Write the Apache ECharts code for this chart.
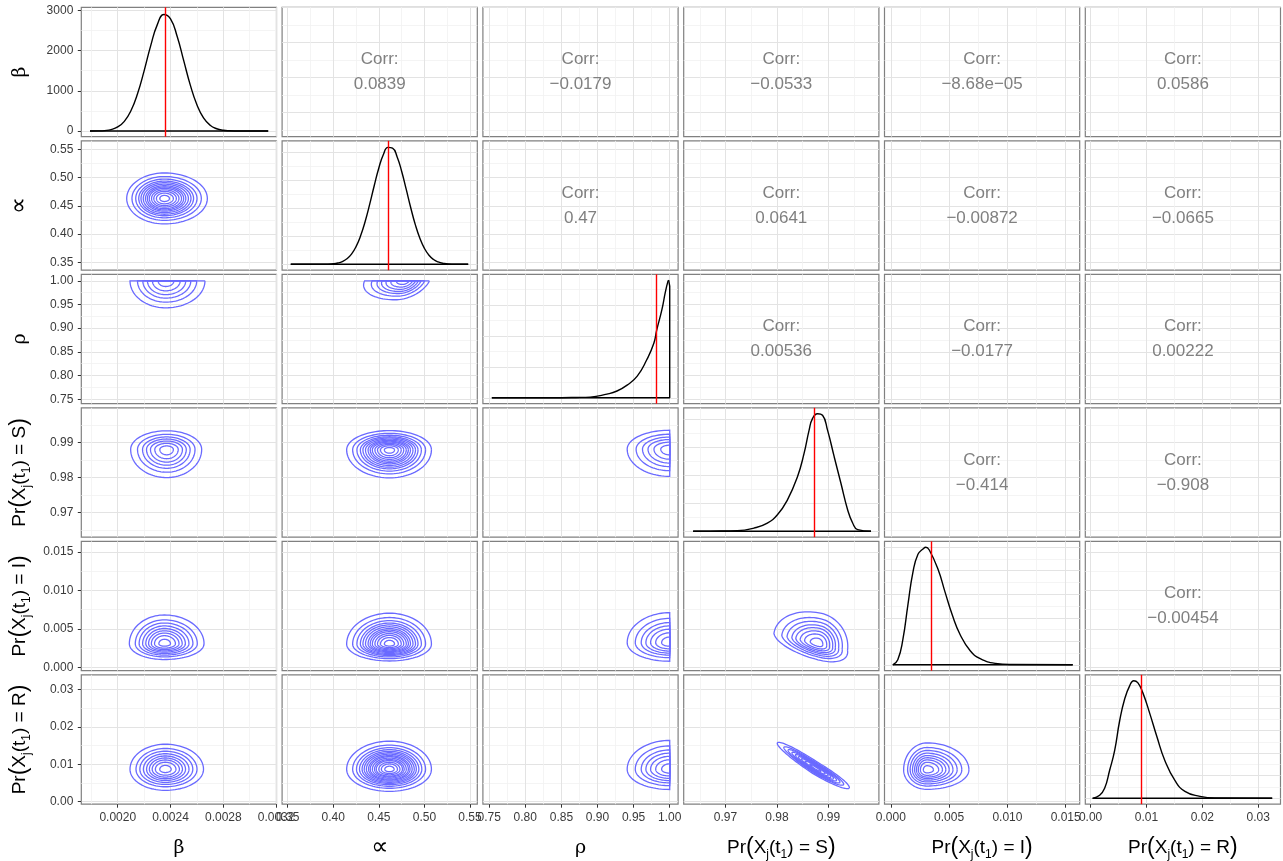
<!DOCTYPE html>
<html><head><meta charset="utf-8">
<script src="https://cdn.jsdelivr.net/npm/echarts@6/dist/echarts.min.js"></script>
<style>html,body{margin:0;padding:0;background:#fff}#c{width:1283px;height:861px}</style>
</head><body><div id="c"></div>
<script>
// ---------------- data ----------------
const xRanges = [[0.001724,0.003203],[0.3439,0.5580],[0.7413,1.0116],[0.96187,0.9998],[-0.00054,0.0162],[-0.00095,0.0340]];
const yRanges = [[0.001724,0.003203],[0.3363,0.5649],[0.7405,1.0138],[0.96291,0.9999],[-0.00043,0.01636],[-0.00067,0.0339]];
const majorTicks = [[0.0020,0.0024,0.0028,0.0032],[0.35,0.40,0.45,0.50,0.55],[0.75,0.80,0.85,0.90,0.95,1.00],[0.97,0.98,0.99],[0,0.005,0.010,0.015],[0,0.01,0.02,0.03]];
const majorTickLabels = [['0.0020','0.0024','0.0028','0.0032'],['0.35','0.40','0.45','0.50','0.55'],['0.75','0.80','0.85','0.90','0.95','1.00'],['0.97','0.98','0.99'],['0.000','0.005','0.010','0.015'],['0.00','0.01','0.02','0.03']];
const minorTicks = [[0.0018,0.0022,0.0026,0.0030],[0.375,0.425,0.475,0.525],[0.775,0.825,0.875,0.925,0.975],[0.965,0.975,0.985,0.995],[0.0025,0.0075,0.0125],[0.005,0.015,0.025]];

const densRanges = [[-140,3072],[-1.05,22.05],[-1.9,39.9],[-5.25,110.25],[-12.5,262.5],[-6.5,136.5]];
const densMajor = [[0,1000,2000,3000],[0,5,10,15,20],[0,10,20,30],[0,25,50,75,100],[0,50,100,150,200,250],[0,25,50,75,100,125]];
const densMajorLabels = ['0','1000','2000','3000'];
const densMinor = [[500,1500,2500],[2.5,7.5,12.5,17.5],[5,15,25,35],[12.5,37.5,62.5,87.5],[25,75,125,175,225],[12.5,37.5,62.5,87.5,112.5]];

const betaX = [0.00179,0.00185,0.0019,0.00195,0.0020,0.00205,0.0021,0.00215,0.0022,0.00225,0.0023,0.00235,0.0024,0.00245,0.0025,0.00255,0.0026,0.00265,0.0027,0.00275,0.0028,0.00285,0.0029,0.00295,0.0030,0.00314];
const betaY = [0,3.5,12,37,102,241,504,926,1495,2121,2642,2892,2782,2352,1747,1140,653,329,146,57,19,6,1.6,0.4,0,0];
const alphaX = [0.3534,0.39,0.40,0.405,0.41,0.415,0.42,0.425,0.43,0.435,0.44,0.445,0.45,0.455,0.46,0.465,0.47,0.475,0.48,0.485,0.49,0.495,0.50,0.505,0.51,0.515,0.52,0.53,0.548];
const alphaY = [0,0.01,0.1,0.23,0.50,0.98,1.82,3.15,5.09,7.65,10.74,14.07,17.2,19.62,20.88,20.74,19.22,16.62,13.41,10.1,7.09,4.65,2.84,1.62,0.86,0.43,0.2,0.03,0];
const rhoX = [0.7537,0.85,0.87,0.89,0.913,0.927,0.941,0.955,0.968,0.978,0.982,0.989,0.994,0.9975,0.9985];
const rhoY = [0,0.04,0.11,0.23,1.2,2.2,4.1,7.0,12.2,17.6,21.9,28.3,34.2,37.6,38];
const sX = [0.9637,0.967,0.97228,0.97552,0.97812,0.98008,0.98203,0.98398,0.98526,0.98624,0.98689,0.98787,0.98885,0.98982,0.99111,0.99242,0.99372,0.9947,0.99567,0.99827];
const sY = [0,0.2,0.6,2.9,7.4,14.8,28.1,48.8,69.5,90.3,100.6,105,103.6,90.3,66.6,42.9,19.3,7.4,1.5,0];
const iX = [0.00017,0.0006,0.00103,0.00147,0.0019,0.00233,0.00276,0.0030,0.0033,0.00405,0.00466,0.00526,0.00595,0.00681,0.00767,0.00897,0.0103,0.0156];
const iY = [0,11,53,128,197,235,246,250,244,203,154,107,64,30,13,3,0.6,0];
const rX = [0.00036,0.00162,0.00251,0.00341,0.00431,0.00521,0.00611,0.00701,0.00772,0.00844,0.00934,0.0106,0.01186,0.01329,0.01509,0.01689,0.01958,0.02227,0.03251];
const rY = [0,3.3,11,31,53,86,110,124.5,130,127.8,116.8,93.6,68.3,41.9,19.8,7.7,2.2,0.3,0];
const densX = [betaX, alphaX, rhoX, sX, iX, rX];
const densY = [betaY, alphaY, rhoY, sY, iY, rY];

const trueValues = [0.00236, 0.4606, 0.9813, 0.98715, 0.00345, 0.00898];

const corrValues = [
  [0,1,'0.0839'],[0,2,'\u22120.0179'],[0,3,'\u22120.0533'],[0,4,'\u22128.68e\u221205'],[0,5,'0.0586'],
  [1,2,'0.47'],[1,3,'0.0641'],[1,4,'\u22120.00872'],[1,5,'\u22120.0665'],
  [2,3,'0.00536'],[2,4,'\u22120.0177'],[2,5,'0.00222'],
  [3,4,'\u22120.414'],[3,5,'\u22120.908'],
  [4,5,'\u22120.00454']
];

// contour rings: [row, col, cx, cy, Rx, Ry, Lx, Ly, Ux, Uy, Dx, Dy, rings]
const contours = [
  [1,0, 0.002353,0.4630, 0.000326,0, -0.000285,0, 0,0.0451, 0,-0.0449, 13],
  [2,0, 0.002363,1.0, 0.000298,0, -0.00027,0, 0,0, 0,-0.057, 6],
  [2,1, 0.478,1.0, 0.0275,0, -0.0436,0, 0,0, -0.01,-0.04, 7],
  [3,0, 0.002371,0.98799, 0.000265,0, -0.000273,0, 0,0.00534, 0,-0.00803, 7],
  [3,1, 0.4617,0.98788, 0.046,0, -0.047,0, 0,0.0055, 0,-0.0080, 13],
  [3,2, 1.0,0.98808, 0,0, -0.0589,0, 0,0.0054, 0,-0.0078, 6],
  [4,0, 0.002353,0.00307, 0.000301,0, -0.000265,0, 0,0.00373, 0,-0.00205, 9],
  [4,1, 0.4617,0.00303, 0.046,0, -0.047,0, 0,0.0040, 0,-0.0022, 13],
  [4,2, 1.0,0.0032, 0,0, -0.0589,0, 0,0.0039, 0,-0.0024, 7],
  [4,3, 0.9879,0.0031, 0.0058,-0.0009, -0.0085,0.0013, 0.0008,0.0039, 0.0006,-0.0022, 8],
  [5,0, 0.00236,0.00866, 0.00029,0, -0.000267,0, 0,0.0067, 0,-0.00563, 9],
  [5,1, 0.4617,0.00866, 0.046,0, -0.047,0, 0,0.0075, 0,-0.0059, 15],
  [5,2, 1.0,0.00866, 0,0, -0.0589,0, 0,0.0077, 0,-0.0054, 7],
  [5,3, 0.98754,0.00893, 0.00649,-0.00528, -0.00746,0.00678, 0.000624,0.001367, -0.000624,-0.001367, 9],
  [5,4, 0.0031,0.0085, 0.0036,0, -0.0020,0, 0,0.0072, 0,-0.0052, 9]
];
const ringScales = {
  6: [1,0.79,0.64,0.51,0.37,0.21],
  7: [1,0.81,0.67,0.56,0.45,0.33,0.19],
  8: [1,0.82,0.70,0.59,0.50,0.40,0.30,0.17],
  9: [1,0.83,0.72,0.62,0.53,0.45,0.37,0.28,0.155],
  13: [1,0.86,0.76,0.68,0.62,0.56,0.50,0.45,0.40,0.34,0.28,0.21,0.12],
  15: [1,0.86,0.77,0.70,0.64,0.59,0.54,0.49,0.45,0.40,0.35,0.31,0.25,0.19,0.11]
};

const axisTitles = ['β','∝','ρ','S','I','R'];

// ---------------- layout ----------------
const colLeft = [81.3,282.1,482.9,683.7,884.5,1085.3], PW = 195.2;
const rowTop = [7.3,140.8,274.3,407.8,541.3,674.8], PH = 129.4;
const SANS = 'Liberation Sans, Arial, Helvetica, sans-serif';
const SERIF = 'DejaVu Serif, Liberation Serif, serif';
const TICK_COLOR = '#333333';
const LABEL_COLOR = '#3a3a3a';
const CONTOUR = '#6a6aff';

function labelFor(ticks, labels) {
  return function (v) {
    let bi = 0, bd = Infinity;
    ticks.forEach((t, i) => { const d = Math.abs(t - v); if (d < bd) { bd = d; bi = i; } });
    return labels[bi];
  };
}

const grids = [], xAxes = [], yAxes = [], series = [], graphics = [];

for (let r = 0; r < 6; r++) {
  for (let c = 0; c < 6; c++) {
    const g = grids.length;
    grids.push({left: colLeft[c], top: rowTop[r], width: PW, height: PH, show: true,
      borderColor: '#808080', borderWidth: 1.2, backgroundColor: '#ffffff'});
    const showX = r === 5, showY = c === 0;
    xAxes.push({type: 'value', gridIndex: g, min: xRanges[c][0], max: xRanges[c][1], position: 'bottom',
      axisLine: {show: false, onZero: false},
      axisTick: {show: showX, customValues: majorTicks[c], length: 3.5, lineStyle: {color: TICK_COLOR, width: 1}},
      axisLabel: {show: showX, customValues: majorTicks[c], formatter: labelFor(majorTicks[c], majorTickLabels[c]),
        fontSize: 12, color: LABEL_COLOR, margin: 7, fontFamily: SANS, hideOverlap: false},
      splitLine: {show: true, lineStyle: {color: '#e3e3e3', width: 1}}});
    xAxes.push({type: 'value', gridIndex: g, min: xRanges[c][0], max: xRanges[c][1], position: 'top',
      axisLine: {show: false, onZero: false},
      axisTick: {show: false, customValues: minorTicks[c]},
      axisLabel: {show: false},
      splitLine: {show: true, lineStyle: {color: '#f1f1f1', width: 0.8}}});
    const diag = r === c;
    const yr = diag ? densRanges[r] : yRanges[r];
    const ym = diag ? densMajor[r] : majorTicks[r];
    const yn = diag ? densMinor[r] : minorTicks[r];
    const yl = (diag && r === 0) ? densMajorLabels : majorTickLabels[r];
    yAxes.push({type: 'value', gridIndex: g, min: yr[0], max: yr[1], position: 'left',
      axisLine: {show: false, onZero: false},
      axisTick: {show: showY, customValues: ym, length: 3.5, lineStyle: {color: TICK_COLOR, width: 1}},
      axisLabel: {show: showY, customValues: ym, formatter: labelFor(ym, yl),
        fontSize: 12, color: LABEL_COLOR, margin: 8, fontFamily: SANS, hideOverlap: false},
      splitLine: {show: true, lineStyle: {color: '#e3e3e3', width: 1}}});
    yAxes.push({type: 'value', gridIndex: g, min: yr[0], max: yr[1], position: 'right',
      axisLine: {show: false, onZero: false},
      axisTick: {show: false, customValues: yn},
      axisLabel: {show: false},
      splitLine: {show: true, lineStyle: {color: '#f1f1f1', width: 0.8}}});

    if (diag) {
      const xs = densX[c], ys = densY[c];
      series.push({type: 'line', xAxisIndex: 2 * g, yAxisIndex: 2 * g,
        data: xs.map((x, i) => [x, ys[i]]), smooth: 0.5,
        symbol: 'none', showSymbol: false, silent: true, z: 3,
        lineStyle: {color: '#000', width: 1.4}});
      const last = xs.length - 1;
      const closing = (c === 2)
        ? [[xs[last], ys[last]], [1.0, ys[last] * 0.95], [1.0, 0], [xs[0], 0]]
        : [[xs[0], 0], [xs[last], 0]];
      series.push({type: 'line', xAxisIndex: 2 * g, yAxisIndex: 2 * g,
        data: closing, smooth: false, symbol: 'none', showSymbol: false, silent: true, z: 3,
        lineStyle: {color: '#000', width: 1.4},
        markLine: {symbol: ['none', 'none'], silent: true, label: {show: false}, animation: false, precision: 8,
          lineStyle: {color: '#ff0000', width: 1.4, type: 'solid'}, emphasis: {disabled: true},
          data: [{xAxis: trueValues[c]}]}});
    }
  }
}

// contours
contours.forEach(ct => {
  const [r, c, cx, cy, Rx, Ry, Lx, Ly, Ux, Uy, Dx, Dy, n] = ct;
  const g = r * 6 + c;
  series.push({type: 'custom', xAxisIndex: 2 * g, yAxisIndex: 2 * g, silent: true, clip: true, z: 4,
    data: ringScales[n].map(s => [s]),
    renderItem: function (params, api) {
      const s = api.value(0);
      const N = 96, pts = [];
      for (let i = 0; i <= N; i++) {
        const t = i / N * 2 * Math.PI;
        const co = Math.cos(t), si = Math.sin(t);
        const h = co >= 0 ? [Rx, Ry] : [Lx, Ly];
        const v = si >= 0 ? [Ux, Uy] : [Dx, Dy];
        const ac = Math.abs(co), as = Math.abs(si);
        const x = cx + s * (h[0] * ac + v[0] * as);
        const y = cy + s * (h[1] * ac + v[1] * as);
        pts.push(api.coord([x, y]));
      }
      return {type: 'polyline', shape: {points: pts}, style: {stroke: CONTOUR, lineWidth: 1.3, fill: 'none'}};
    }});
});

// correlation texts
corrValues.forEach(([r, c, txt]) => {
  graphics.push({type: 'text', x: colLeft[c] + PW / 2, y: rowTop[r] + PH / 2, silent: true, z: 50,
    style: {text: 'Corr:\n' + txt, fill: '#808080', fontSize: 17, fontFamily: SANS,
      align: 'center', verticalAlign: 'middle', lineHeight: 25}});
});

// axis titles
const richStyles = {
  n: {fontSize: 19, fontFamily: SANS, fill: '#000', lineHeight: 26, verticalAlign: 'middle'},
  p: {fontSize: 23, fontFamily: SANS, fill: '#000', lineHeight: 26, verticalAlign: 'middle'},
  s: {fontSize: 12, fontFamily: SANS, fill: '#000', verticalAlign: 'bottom'},
  g: {fontSize: 19, fontFamily: SERIF, fill: '#000', lineHeight: 26, verticalAlign: 'middle'},
  a: {fontSize: 24, fontFamily: 'DejaVu Sans, sans-serif', fill: '#000', lineHeight: 26, verticalAlign: 'middle'}
};
function titleText(i) {
  if (i === 1) return '{a|' + axisTitles[i] + '}';
  if (i < 3) return '{g|' + axisTitles[i] + '}';
  return '{n|Pr}{p|(}{n|X}{s|j}{n|(t}{s|1}{n|) = ' + axisTitles[i] + '}{p|)}';
}
for (let i = 0; i < 6; i++) {
  graphics.push({type: 'text', x: colLeft[i] + PW / 2, y: 848, silent: true,
    style: {text: titleText(i), rich: richStyles, align: 'center', verticalAlign: 'middle'}});
  graphics.push({type: 'text', x: 20, y: rowTop[i] + PH / 2, rotation: Math.PI / 2, silent: true,
    style: {text: titleText(i), rich: richStyles, align: 'center', verticalAlign: 'middle'}});
}

const chart = echarts.init(document.getElementById('c'), null, {renderer: 'canvas'});
chart.setOption({
  animation: false,
  backgroundColor: '#ffffff',
  textStyle: {fontFamily: SANS},
  grid: grids, xAxis: xAxes, yAxis: yAxes, series: series, graphic: graphics
});
</script></body></html>
